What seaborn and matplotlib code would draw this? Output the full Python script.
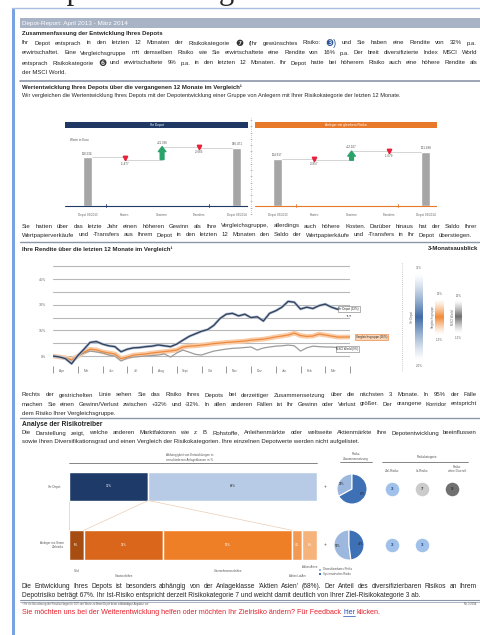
import matplotlib
matplotlib.use('Agg')
import matplotlib.pyplot as plt
import matplotlib.colors as mcolors
import numpy as np
import pandas as pd
import seaborn as sns

sns.set_theme(style='white')
plt.rcParams['font.family'] = ['Liberation Sans', 'DejaVu Sans']

W, H = 480, 635

wf_schritte = ['Depot 03/2013', 'Kosten', 'Gewinne', 'Transfers', 'Depot 03/2014']
wf_depot = [118234, -5477, 31380, -3666]
wf_gruppe = [114917, -3857, 22107, -1679]

monate = ['Apr', 'Mai', 'Jun', 'Jul', 'Aug', 'Sept', 'Okt', 'Nov', 'Dez', 'Jan', 'Feb', 'Mär']
zeit = np.arange(0, 12.01, 0.25)  # weekly sampling in months since April 2013
rendite_depot = [0.0, -0.5, -1.5, -4.5, 0.2, 4.0, 8.0, 8.5, 7.0, 6.0, 5.5, 2.5, 4.0, 4.8, 5.0, 5.5, 5.8,
                 6.5, 6.0, 5.5, 7.0, 9.3, 11.5, 13.0, 14.5, 15.5, 18.0, 22.0, 24.5, 25.0, 23.5, 24.5,
                 22.5, 23.0, 20.5, 25.0, 26.5, 28.6, 32.0, 31.5, 27.5, 28.6, 27.8, 29.5, 30.4, 28.6,
                 27.4, 28.0, 28.5]
rendite_gruppe = [0.0, -0.5, -1.0, -2.3, 0.0, 2.3, 4.0, 3.6, 2.5, 1.8, 1.2, -1.5, -0.6, 0.5, 0.9, 1.2,
                  1.8, 2.2, 2.6, 3.0, 3.5, 5.3, 5.8, 6.0, 6.4, 6.8, 7.3, 7.6, 8.0, 8.2, 8.5, 8.8, 9.3,
                  9.6, 9.9, 10.5, 11.2, 11.7, 12.3, 13.4, 12.0, 11.5, 11.7, 12.9, 12.3, 11.7, 11.1,
                  11.1, 11.2]
rendite_msci = [0.0, -0.5, -1.2, -2.3, 0.0, 1.8, 2.9, 2.4, 1.8, 0.6, 0.0, -2.9, -1.2, -0.6, -0.3, 0.0,
                0.3, 0.6, 1.2, -0.6, 1.8, 3.5, 2.3, 1.0, 0.6, 1.8, 2.9, 3.5, 4.1, 4.5, 4.7, 5.0, 5.3,
                3.5, 4.7, 5.3, 5.8, 6.0, 6.4, 6.0, 2.9, 4.8, 5.8, 5.5, 5.3, 5.3, 5.0, 5.2, 5.0]
rendite_ticks = [0, 15, 30, 45]

ausblick_namen = ['Ihr Depot', 'Vergleichsgruppe', 'MSCI World']
ausblick_risiko = [32, 13, 12]

klassen_namen = ['Gold', 'Staatsanleihen', 'Unternehmensanleihen', 'Aktien LatAm', 'Aktien Asien']
klassen_depot = [32, 68]
klassen_gruppe = [6, 32, 52, 4, 6]
pie_depot = [33, 67]
pie_gruppe = [52, 48]
risiko_depot = [3, 7, 9]
risiko_gruppe = [3, 3]

# colours
NAVY = '#1f3864'
ORANGE = '#e8782a'
GRAU = '#a6a6a6'
TXT = '#262626'

fig = plt.figure(figsize=(W / 100, H / 100), dpi=100)
renderer = fig.canvas.get_renderer()

page = fig.add_axes([0, 0, 1, 1])
page.set_xlim(0, W)
page.set_ylim(H, 0)
page.axis('off')


def px_axes(x0, y0, x1, y1):
    a = fig.add_axes([x0 / W, 1 - y1 / H, (x1 - x0) / W, (y1 - y0) / H])
    a.set_facecolor('none')
    return a


kreis_farben = {'❼': '#333333', '❸': '#2f5597', '❻': '#333333'}


# one line of text, stretched over the column like the justified report text
def zeile(text, y, x0=22, x1=477, size=4.3, weight='normal', color=TXT, block=True):
    if not block:
        return page.text(x0, y, text, fontsize=size, fontweight=weight, color=color, va='center')
    objs = []
    for w in text.split(' '):
        if w[0] in kreis_farben:
            objs.append(page.text(0, y, w, fontsize=size * 1.5, color=kreis_farben[w[0]], va='center'))
        else:
            objs.append(page.text(0, y, w, fontsize=size, fontweight=weight, color=color, va='center'))
    breiten = [o.get_window_extent(renderer).width for o in objs]
    luecke = (x1 - x0 - sum(breiten)) / (len(objs) - 1)
    x = x0
    for o, b in zip(objs, breiten):
        o.set_x(x)
        x += b + luecke


# page frame and header (the title above the page is cut by the screenshot)
page.text(31, -0.5, 'Depot des Anlegers', fontsize=22, family='Liberation Serif', va='baseline')
page.plot([12, W], [8, 8], color='#a9bedf', lw=1)
page.add_patch(plt.Rectangle((12, 8), 3, H - 8, color='#7aa2e0', lw=0))
page.add_patch(plt.Rectangle((20, 18), W - 20, 10, color='#a9b3c6', lw=0))
page.text(22, 23, 'Depot-Report: April 2013 - März 2014', fontsize=4.6, color='white', va='center')

page.text(22, 33, 'Zusammenfassung der Entwicklung Ihres Depots', fontsize=4.3, fontweight='bold', va='center')
zeile('Ihr Depot entsprach in den letzten 12 Monaten der Risikokategorie ❼ (Ihr gewünschtes Risiko: ❸) '
      'und Sie haben eine Rendite von 32% p.a.', 43)
zeile('erwirtschaftet. Eine Vergleichsgruppe mit demselben Risiko wie Sie erwirtschaftete eine Rendite von '
      '16% p.a. Der breit diversifizierte Index MSCI World', 53)
zeile('entsprach Risikokategorie ❻ und erwirtschaftete 9% p.a. in den letzten 12 Monaten. Ihr Depot hatte '
      'bei höherem Risiko auch eine höhere Rendite als', 63)
zeile('der MSCI World.', 73, block=False)
page.plot([20, W], [81, 81], color='#8c96a8', lw=1.2)

page.text(22, 87, 'Wertentwicklung Ihres Depots über die vergangenen 12 Monate im Vergleich¹', fontsize=4.3,
          fontweight='bold', va='center')
zeile('Wir vergleichen die Wertentwicklung Ihres Depots mit der Depotentwicklung einer Gruppe von Anlegern '
      'mit Ihrer Risikokategorie der letzten 12 Monate.', 96, size=4.1, block=False)


# waterfall panels
def fmt(v, sign=False):
    s = f'{abs(v):,}'.replace(',', '.')
    if sign:
        return ('+' if v > 0 else '-') + s
    return s


def wasserfall(x0, x1, werte, farbe, titel):
    page.add_patch(plt.Rectangle((x0, 122), x1 - x0, 6, color=farbe, lw=0))
    page.text((x0 + x1) / 2, 125, titel, fontsize=2.4, color='white', ha='center', va='center')
    ax = px_axes(x0, 136, x1, 212)
    stufen = np.cumsum(werte) / 1000
    df = pd.DataFrame({'Schritt': [wf_schritte[0], wf_schritte[-1]], 'Wert': [stufen[0], stufen[-1]]})
    sns.barplot(data=df, x='Schritt', y='Wert', order=wf_schritte, color=GRAU, width=0.24,
                saturation=1, ax=ax)
    ax.set_xlim(-0.6, 4.3)
    ax.set_ylim(-15, 170)
    # connectors
    for i in range(4):
        xa = 0.12 if i == 0 else i
        xb = 3.88 if i == 3 else i + 1
        ax.plot([xa, xb], [stufen[i], stufen[i]], color='#c4c4c4', lw=0.5)
    for i in (1, 3):
        ax.plot(i, (stufen[i - 1] + stufen[i]) / 2, 'v', color='#e8213a', ms=3.2)
        ax.text(i, stufen[i] - 5, fmt(werte[i], True), fontsize=2.2, color='#555', ha='center', va='top')
    ax.annotate('', xy=(2, stufen[2]), xytext=(2, stufen[1]),
                arrowprops=dict(arrowstyle='simple,head_width=0.9,head_length=0.6,tail_width=0.45',
                                color='#2aa36b', mutation_scale=6, shrinkA=0, shrinkB=0))
    ax.text(2, stufen[2] + 4, fmt(werte[2], True), fontsize=2.2, color='#555', ha='center', va='bottom')
    ax.text(0, stufen[0] + 4, fmt(werte[0]), fontsize=2.2, color='#555', ha='center', va='bottom')
    ax.text(4, stufen[3] + 4, fmt(int(round(stufen[3] * 1000))), fontsize=2.2, color='#555',
            ha='center', va='bottom')
    ax.axhline(0, color=farbe, lw=0.8)
    for t in (0.5, 3.25):
        ax.plot([t, t], [-4, 4], color=farbe, lw=0.6)
    ax.set_xticks(range(5))
    ax.set_xticklabels(wf_schritte, fontsize=2.2, color='#666')
    ax.tick_params(axis='x', length=0, pad=1)
    ax.set_yticks([])
    ax.set_xlabel('')
    ax.set_ylabel('')
    sns.despine(ax=ax, left=True, bottom=True)
    return ax


ax_l = wasserfall(65, 248, wf_depot, NAVY, 'Ihr Depot')
ax_l.text(0.03, 0.93, 'Werte in Euro', fontsize=2.2, color='#555', transform=ax_l.transAxes)
wasserfall(255, 437, wf_gruppe, ORANGE, 'Anleger mit gleichem Risiko')
page.plot([251, 251], [118, 216], color='#9a9a9a', lw=0.5, ls=(0, (1, 2)))
page.plot([251] * 16, np.linspace(120, 214, 16), ls='none', marker='_', ms=1.5, mew=0.4, color='#9a9a9a')

zeile('Sie hatten über das letzte Jahr einen höheren Gewinn als Ihre Vergleichsgruppe, allerdings auch höhere '
      'Kosten. Darüber hinaus hat der Saldo Ihrer', 226)
zeile('Wertpapierverkäufe und -Transfers aus Ihrem Depot in den letzten 12 Monaten den Saldo der '
      'Wertpapierkäufe und -Transfers in Ihr Depot überstiegen.', 235, x1=472)
page.plot([20, W], [242, 242], color='#8c96a8', lw=1.0)
page.text(22, 249, 'Ihre Rendite über die letzten 12 Monate im Vergleich¹', fontsize=4.3,
          fontweight='bold', va='center')
page.text(478, 249, '3-Monatsausblick', fontsize=4.3, fontweight='bold', va='center', ha='right')

# return lines
ax = px_axes(53, 265.5, 350, 366.3)
df_r = pd.DataFrame({'Monat': zeit, 'Depot': rendite_depot, 'Gruppe': rendite_gruppe,
                     'MSCI': rendite_msci})
sns.lineplot(data=df_r, x='Monat', y='Gruppe', color='#f9cba6', lw=3.4, ax=ax)
sns.lineplot(data=df_r, x='Monat', y='MSCI', color='#9c9c9c', lw=0.9, ax=ax)
sns.lineplot(data=df_r, x='Monat', y='Gruppe', color='#ee8a3e', lw=0.9, ax=ax)
sns.lineplot(data=df_r, x='Monat', y='Depot', color='#b9c8de', lw=2.0, ax=ax)
sns.lineplot(data=df_r, x='Monat', y='Depot', color='#34425a', lw=1.0, ax=ax)
ax.set_xlim(0, 12)
ax.set_ylim(-6, 53)
gitter = np.arange(0, 53, 7.5)
ax.set_yticks(gitter)
ax.set_yticklabels([f'{int(g)}%' if g in rendite_ticks else '' for g in gitter], fontsize=2.6, color='#666')
ax.yaxis.grid(True, color='#b8b8b8', lw=0.8)
ax.tick_params(axis='y', length=0, pad=5)
ax.set_xticks(range(13))
ax.set_xticklabels([])
ax.set_xticks(np.arange(12) + 0.35, minor=True)
ax.set_xticklabels(monate, minor=True, fontsize=2.3, color='#666')
ax.tick_params(axis='x', which='major', direction='out', length=5, width=0.6, color='#888', bottom=True)
ax.tick_params(axis='x', which='minor', length=0, pad=2.2)
ax.set_xlabel('')
ax.set_ylabel('')
sns.despine(ax=ax, left=True, bottom=True)
kasten = dict(boxstyle='square,pad=0.25', fc='white', ec='#777', lw=0.4)
ax.text(11.95, rendite_depot[-1] - 1, 'Ihr Depot (32%)', fontsize=2.1, ha='center', va='center',
        bbox=kasten, clip_on=False)
ax.text(11.95, rendite_depot[-1] - 5, '▼‑▼', fontsize=2.0, color='#34425a', ha='center', va='center',
        clip_on=False)
ax.text(12.87, rendite_gruppe[-1], 'Vergleichsgruppe (16%)', fontsize=2.1, ha='center', va='center',
        bbox=dict(boxstyle='square,pad=0.25', fc='#fbd5b5', ec=ORANGE, lw=0.4), clip_on=False)
ax.text(11.9, rendite_msci[-1] - 1, 'MSCI World (9%)', fontsize=2.1, ha='center', va='center',
        bbox=kasten, clip_on=False)

# 3-month outlook
ax = px_axes(398, 262, 472, 372)
ax.set_xlim(-2, 72)
ax.set_ylim(-40, 40)
ax.axis('off')
ax.plot([2, 2], [-40, 40], color='#9a9a9a', lw=0.5, ls=(0, (1, 2)))
verlauf = 1 - np.abs(np.linspace(-1, 1, 200))[:, None]
for (xa, xb), r, farbe, name in zip([(15, 23), (35, 44), (55, 62)], ausblick_risiko,
                                     ['#3f6ca6', '#f28a35', '#6e6e6e'], ausblick_namen):
    cmap = mcolors.LinearSegmentedColormap.from_list('b', ['white', farbe])
    ax.imshow(verlauf ** 1.3, extent=[xa, xb, -r, r], cmap=cmap, vmin=0, vmax=1, aspect='auto')
    xm = (xa + xb) / 2
    ax.text(xm, r + 2, f'{r}%', fontsize=2.2, color='#666', ha='center', va='bottom')
    ax.text(xm, -r - 2, f'-{r}%', fontsize=2.2, color='#666', ha='center', va='top')
    ax.text(xa - 2.5, 0, name, fontsize=2.1, color='#666', rotation=90, ha='center', va='center')
ax.set_xlim(-2, 72)
ax.set_ylim(-40, 40)

zeile('Rechts der gestrichelten Linie sehen Sie das Risiko Ihres Depots bei derzeitiger Zusammensetzung '
      'über die nächsten 3 Monate. In 95% der Fälle', 395)
zeile('machen Sie einen Gewinn/Verlust zwischen +32% und -32%. In allen anderen Fällen ist Ihr Gewinn oder '
      'Verlust größer. Der orangene Korridor entspricht', 404)
zeile('dem Risiko Ihrer Vergleichsgruppe.', 413, block=False)
page.plot([20, W], [418, 418], color='#8c96a8', lw=1.0)
page.text(22, 424.5, 'Analyse der Risikotreiber', fontsize=4.8, fontweight='bold', va='center')
zeile('Die Darstellung zeigt, welche anderen Marktfaktoren wie z. B. Rohstoffe, Anleihenmärkte oder '
      'weltweite Aktienmärkte Ihre Depotentwicklung beeinflussen', 433)
zeile('sowie Ihren Diversifikationsgrad und einen Vergleich der Risikokategorien. Ihre einzelnen '
      'Depotwerte werden nicht aufgelistet.', 442, block=False)

# section headers of the risk analysis
klein = dict(fontsize=2.2, color='#555', ha='center', va='center')
page.text(190, 457.5, 'Abhängigkeit von Entwicklungen in\nverschiedenen Anlageklassen in %', linespacing=1.1,
          **klein)
page.plot([69, 317], [463, 463], color='#555', lw=0.5)
page.text(356, 456.5, 'Risiko-\nZusammensetzung', linespacing=1.1, **klein)
page.plot([340, 372], [462, 462], color='#555', lw=0.5)
page.text(427, 457, 'Risikokategorie', **klein)
page.plot([382, 468], [462, 462], color='#555', lw=0.5)
page.text(392, 470.5, 'Ziel-Risiko', **klein)
page.text(422, 470.5, 'Ist-Risiko', **klein)
page.text(457, 469, 'Risiko\nohne Diversif.', linespacing=1.1, **klein)
page.text(60, 487, 'Ihr Depot', fontsize=2.2, color='#555', ha='right', va='center')
page.text(64, 545, 'Anleger mit Ihrem\nZielrisiko', fontsize=2.2, color='#555', ha='right', va='center',
          linespacing=1.1)
page.text(325, 487, '+', fontsize=3.5, color='#555', ha='center', va='center')
page.text(325, 544, '+', fontsize=3.5, color='#555', ha='center', va='center')

# stacked asset class bars
ax = px_axes(69, 466, 317, 566)
ax.set_xlim(0, 100)
ax.set_ylim(1.36, -0.35)
ax.axis('off')
blau = ['#1d3a68', '#b7cbe6']
links = np.concatenate([[0], np.cumsum(klassen_depot)[:-1]])
ax.barh([0] * 2, klassen_depot, left=links, height=0.48, color=blau)
for l, v, c in zip(links, klassen_depot, ['white', '#333']):
    ax.text(l + v / 2, 0, f'{v}%', fontsize=2.2, color=c, ha='center', va='center')
orange = ['#a84d12', '#d9661a', '#ef7f26', '#f39a52', '#f6b37c']
links_g = np.concatenate([[0], np.cumsum(klassen_gruppe)[:-1]])
ax.barh([1] * 5, klassen_gruppe, left=links_g, height=0.5, color=orange)
for l, v in zip(links_g, klassen_gruppe):
    ax.text(l + v / 2, 1, f'{v}%', fontsize=2.1, color='white', ha='center', va='center')
grenzen = np.cumsum(klassen_gruppe)
for xa, xb in [(0, 0), (klassen_depot[0], klassen_gruppe[0]), (klassen_depot[0], grenzen[2]), (100, 100)]:
    ax.plot([xa, xb], [0.24, 0.75], color='#e9cdb5', lw=0.5)
for (l, v), name, dy in zip(zip(links_g, klassen_gruppe), klassen_namen, [1.45, 1.53, 1.45, 1.53, 1.37]):
    ax.text(l + v / 2, dy, name, fontsize=2.0, color='#555', ha='center', va='center', clip_on=False)

# pies
for (cx, cy), werte in zip([(352, 489), (349, 545)], [pie_depot, pie_gruppe]):
    ax = px_axes(cx - 15.5, cy - 15.5, cx + 15.5, cy + 15.5)
    ax.pie(werte, colors=['#9db8df', '#3e70b6'], startangle=90, counterclock=True,
           wedgeprops=dict(ec='white', lw=0.8), labels=[f'{v}%' for v in werte], labeldistance=0.6,
           textprops=dict(fontsize=2.0, color='#222'))
    ax.set_xlim(-1.03, 1.03)
    ax.set_ylim(-1.03, 1.03)
page.add_patch(plt.Rectangle((319, 568.5), 2, 2, color='#9db8df', lw=0))
page.add_patch(plt.Rectangle((319, 572.5), 2, 2, color='#3e70b6', lw=0))
page.text(323, 569.5, 'Diversifizierbares Risiko', fontsize=2.0, color='#555', va='center')
page.text(323, 573.5, 'Systematisches Risiko', fontsize=2.0, color='#555', va='center')

# risk categories
ax = px_axes(380, 476, 470, 558)
ax.set_xlim(-0.4, 2.6)
ax.set_ylim(1.24, -0.24)
ax.axis('off')
kat_farbe = {3: '#9fc1ea', 7: '#cbcbcb', 9: '#707070'}
for reihe, werte in enumerate([risiko_depot, risiko_gruppe]):
    for spalte, k in enumerate(werte):
        ax.scatter(spalte, reihe, s=95, color=kat_farbe[k], lw=0)
        ax.text(spalte, reihe, str(k), fontsize=3.2, fontweight='bold',
                color='#1f3e7a' if k == 3 else '#333', ha='center', va='center')

zeile("Die Entwicklung Ihres Depots ist besonders abhängig von der Anlageklasse 'Aktien Asien' (68%). Der "
      "Anteil des diversifizierbaren Risikos an Ihrem", 586, size=4.8)
zeile('Depotrisiko beträgt 67%. Ihr Ist-Risiko entspricht derzeit Risikokategorie 7 und weicht damit '
      'deutlich von Ihrer Ziel-Risikokategorie 3 ab.', 595.5, size=4.8, block=False)
page.plot([20, W], [599.5, 599.5], color='#8c96a8', lw=0.8)
page.plot([20, W], [601.5, 601.5], color='#8c96a8', lw=0.5)
page.text(22, 604, '¹ Für die Berechnung der Renditen liegen für 10% der Werte zu Ihrem Depot keine '
          'vollständigen Angaben vor.', fontsize=1.9, color='#555', va='center')
page.text(476, 604, 'Nr. 1/2014', fontsize=1.9, color='#555', va='center', ha='right')

# feedback line in red with blue link
t1 = page.text(22, 612.5, 'Sie möchten uns bei der Weiterentwicklung helfen oder möchten Ihr Zielrisiko '
               'ändern? Für Feedback ', fontsize=5.1, color='#e5202a', va='center')
x = 22 + t1.get_window_extent(renderer).width
t2 = page.text(x, 612.5, 'hier', fontsize=5.1, color='#1f4fb5', va='center')
b = t2.get_window_extent(renderer).width
page.plot([x, x + b], [616, 616], color='#1f4fb5', lw=0.5)
page.text(x + b + 1.5, 612.5, 'klicken.', fontsize=5.1, color='#e5202a', va='center')

fig.savefig('out.png', dpi=100)
